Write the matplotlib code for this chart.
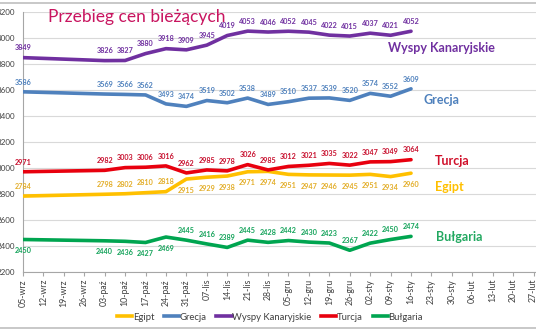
import numpy as np
import matplotlib
matplotlib.use("Agg")
import matplotlib.pyplot as plt
from matplotlib.lines import Line2D

plt.rcParams['font.family'] = ['Lato', 'DejaVu Sans']

# x categories (weeks)
weeks = ["05-wrz", "12-wrz", "19-wrz", "26-wrz", "03-paź", "10-paź", "17-paź",
         "24-paź", "31-paź", "07-lis", "14-lis", "21-lis", "28-lis", "05-gru",
         "12-gru", "19-gru", "26-gru", "02-sty", "09-sty", "16-sty", "23-sty",
         "30-sty", "06-lut", "13-lut", "20-lut", "27-lut"]

# weeks with a price reading (indices into weeks)
measured = [0, 4, 5, 6, 7, 8, 9, 10, 11, 12, 13, 14, 15, 16, 17, 18, 19]

egipt = [2784, 2798, 2802, 2810, 2818, 2915, 2929, 2938, 2971, 2974, 2951,
         2947, 2946, 2945, 2951, 2934, 2960]
grecja = [3586, 3569, 3566, 3562, 3493, 3474, 3519, 3502, 3538, 3489, 3510,
          3537, 3539, 3520, 3574, 3552, 3609]
kanary = [3849, 3826, 3827, 3880, 3918, 3909, 3945, 4019, 4053, 4046, 4052,
          4045, 4022, 4015, 4037, 4021, 4052]
turcja = [2971, 2982, 3003, 3006, 3016, 2962, 2985, 2978, 3026, 2985, 3012,
          3021, 3035, 3022, 3047, 3049, 3064]
bulgaria = [2450, 2440, 2436, 2427, 2469, 2445, 2416, 2389, 2445, 2428, 2442,
            2430, 2423, 2367, 2422, 2450, 2474]

series = [
    # name, values, line colour, label colour, label below from index
    ("Egipt", egipt, "#FFC000", "#E3AE2A", 5),
    ("Grecja", grecja, "#4F81BD", "#4F81BD", None),
    ("Wyspy Kanaryjskie", kanary, "#7030A0", "#7030A0", None),
    ("Turcja", turcja, "#E8000E", "#C8102E", None),
    ("Bułgaria", bulgaria, "#00A550", "#14A35A", -5),
]

fig = plt.figure(figsize=(5.36, 3.32), dpi=100)
ax = fig.add_axes([23 / 536, 60 / 332, 1 - 23 / 536, 260 / 332])

x = np.array(measured)
for name, vals, col, lcol, below in series:
    ax.plot(x, vals, color=col, lw=2.6, solid_capstyle='round', zorder=3)
    for i, (xi, v) in enumerate(zip(x, vals)):
        if below is None:
            down = False
        elif below > 0:
            down = i >= below
        else:
            down = i < -below
        dy = -8 if down else 7
        ax.annotate(str(v), (xi, v), xytext=(0, dy), textcoords='offset points',
                    ha='center', va='center', fontsize=5.2, fontweight='bold',
                    color=lcol, zorder=4)

ax.set_xlim(0, 25.12)
ax.set_ylim(2200, 4200)
ax.set_yticks(range(2200, 4201, 200))
ax.set_xticks(range(len(weeks)))
ax.set_xticklabels(weeks, rotation=90, fontsize=6.3, color='#404040')
ax.tick_params(axis='y', labelsize=5.8, labelcolor='#404040', length=0, pad=5.5)
ax.tick_params(axis='x', length=3, color='#A6A6A6', pad=2)
ax.grid(axis='y', color='#D9D9D9', lw=0.8)
ax.set_axisbelow(True)
for s in ['top', 'right']:
    ax.spines[s].set_visible(False)
for s in ['left', 'bottom']:
    ax.spines[s].set_color('#A6A6A6')
    ax.spines[s].set_linewidth(0.8)

# series names on the right
names = [("Wyspy Kanaryjskie", 388, 48, "#7030A0"),
         ("Grecja", 423, 100, "#4F81BD"),
         ("Turcja", 435, 161, "#D0102A"),
         ("Egipt", 435, 187, "#FFC000"),
         ("Bułgaria", 436, 237, "#22A860")]
for t, px, py, c in names:
    fig.text(px / 536, 1 - py / 332, t, fontsize=9, fontweight='bold',
             color=c, ha='left', va='center')

fig.text(48 / 536, 1 - 17 / 332, "Przebieg cen bieżących", fontsize=12.5,
         color='#C8145F', ha='left', va='center')

handles = [Line2D([], [], color=c, lw=2.6) for _, _, c, _, _ in series]
fig.legend(handles, [s[0] for s in series], loc='center', ncol=5,
           bbox_to_anchor=(270 / 536, 1 - 317 / 332), frameon=False,
           fontsize=6.8, handlelength=1.6, handletextpad=0.1, columnspacing=1.0,
           labelcolor='#404040')

# chart border remains
fig.add_artist(Line2D([0, 1], [1 - 3 / 332, 1 - 3 / 332], color='#BFBFBF', lw=1.2))
fig.add_artist(Line2D([0, 1], [1 - 328 / 332, 1 - 328 / 332], color='#BFBFBF', lw=1.2))

fig.savefig("out.png", dpi=100)
